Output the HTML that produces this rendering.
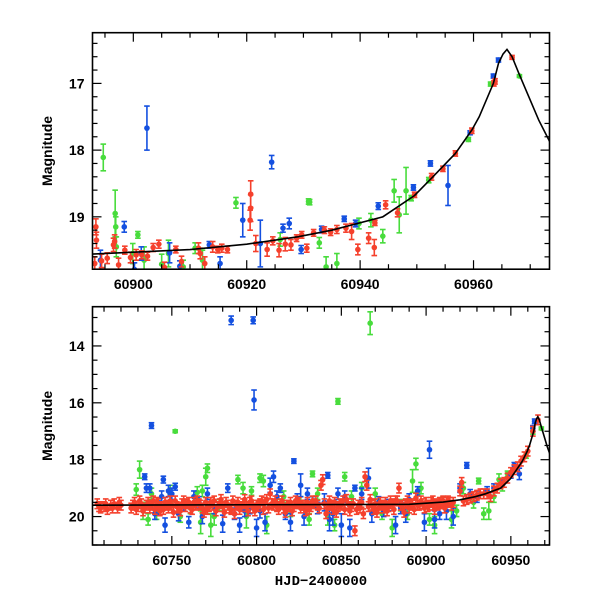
<!DOCTYPE html>
<html><head><meta charset="utf-8"><style>
html,body{margin:0;padding:0;background:#fff;}
svg{display:block;font-family:"Liberation Sans",sans-serif;}
</style></head><body>
<svg id="chart" width="600" height="600" viewBox="0 0 600 600"></svg>
<script>
// ---------- data ----------
const modelT = [60700,60890,60900,60910,60920,60929,60935,60944,60949.6,60952.6,60956.8,60959.7,60961,60963.5,60964.4,60965.2,60965.9,60966.8,60968,60969.5,60971.5,60973.6,60976];
const modelM = [19.6,19.57,19.53,19.49,19.41,19.3,19.2,19.0,18.68,18.42,18.05,17.7,17.5,17.0,16.7,16.56,16.49,16.6,16.85,17.15,17.55,17.9,18.2];

const topRed = [[60893.4,19.15,.12],[60893.5,19.35,.12],[60893.2,19.7,.1],[60894.4,19.66,.1],[60895.4,19.62,.08],[60896.5,19.42,.1],[60896.7,19.37,.1],[60897.4,19.72,.1],[60898.5,19.5,.06],[60899.5,19.61,.08],[60900.5,19.57,.08],[60901.5,19.57,.06],[60902.5,19.59,.06],[60903.5,19.46,.06],[60904.5,19.41,.06],[60905.5,19.76,.08],[60907.5,19.49,.05],[60908.5,19.67,.08],[60911.5,19.47,.08],[60911.8,19.55,.08],[60912.6,19.7,.1],[60914,19.45,.08],[60914.9,19.49,.05],[60915.6,19.47,.06],[60916.6,19.49,.05],[60920.6,19.05,.15],[60920.7,18.87,.2],[60920.7,18.66,.2],[60921.6,19.4,.12],[60923.6,19.49,.1],[60924.6,19.36,.06],[60925.7,19.5,.1],[60926.8,19.41,.1],[60927.8,19.42,.08],[60928.8,19.32,.05],[60929.7,19.27,.05],[60930.6,19.47,.06],[60931.8,19.24,.05],[60933.7,19.2,.05],[60934.8,19.23,.05],[60935.9,19.19,.06],[60937.5,19.17,.06],[60938.5,19.22,.12],[60939.6,19.49,.08],[60941.5,19.32,.08],[60942.5,19.46,.12],[60942.6,19.09,.04],[60944.5,18.82,.06],[60946.6,18.94,.06],[60949.6,18.67,.04],[60952.6,18.4,.05],[60954.6,18.28,.04],[60956.8,18.05,.04],[60959.7,17.71,.04],[60963.6,17.0,.04],[60963.8,16.97,.04],[60966.8,16.61,.03]];
const topBlue = [[60894.2,19.65,.15],[60898.4,19.15,.08],[60900.2,19.79,.1],[60901.4,19.55,.1],[60902.4,17.67,.33],[60906.4,19.54,.15],[60908.2,19.74,.08],[60913.4,19.42,.05],[60915.3,19.7,.1],[60919.3,19.05,.25],[60922.4,19.4,.35],[60924.4,18.18,.1],[60926.4,19.17,.06],[60927.5,19.1,.08],[60929.6,19.49,.06],[60933.2,19.19,.05],[60933.5,19.19,.04],[60937.2,19.03,.04],[60939.2,19.1,.05],[60943.2,18.84,.05],[60949.4,18.56,.04],[60952.4,18.2,.04],[60955.5,18.53,.3],[60959.4,17.74,.03],[60963.5,16.89,.03],[60964.4,16.65,.03]];
const topGreen = [[60894.7,18.11,.2],[60896.8,18.95,.35],[60896.9,19.15,.15],[60900.8,19.27,.05],[60897,19.45,.15],[60899.9,19.55,.15],[60901.9,19.65,.2],[60905,19.71,.15],[60906.2,19.55,.2],[60908.8,19.75,.1],[60910.9,19.47,.08],[60912.2,19.65,.15],[60918.1,18.79,.08],[60925.9,19.34,.1],[60930.9,18.77,.04],[60931.1,18.78,.04],[60932.8,19.39,.08],[60934,19.75,.15],[60935.9,19.7,.15],[60939.8,19.1,.08],[60941.9,19.05,.1],[60944,19.29,.1],[60946,18.61,.17],[60946.9,18.97,.27],[60948.1,18.61,.35],[60949,18.72,.04],[60952.1,18.45,.04],[60959.1,17.84,.03],[60963,17.01,.03],[60968.1,16.89,.02]];

const botRed = [[60706,19.55],[60708,19.7],[60710,19.65],[60712,19.75],[60714,19.6],[60716,19.55],[60718,19.7],[60720,19.6],[60726,19.7],[60728,19.5],[60730,19.65],[60732,19.55],[60734,19.7],[60736,19.5],[60738,19.6],[60740,19.75],[60742,19.55],[60744,19.65],[60746,19.5],[60748,19.7],[60750,19.6],[60752,19.45],[60754,19.7],[60756,19.55],[60758,19.65],[60760,19.5],[60762,19.75],[60764,19.6],[60766,19.55],[60768,19.7],[60770,19.5],[60772,19.65],[60774,19.6],[60776,19.8],[60778,19.55],[60780,19.65],[60782,19.5],[60784,19.7],[60786,19.45],[60788,19.6],[60790,19.75],[60792,19.55],[60794,19.65],[60796,19.5],[60798,19.7],[60800,19.6],[60802,19.55],[60804,19.75],[60806,19.4],[60808,19.2],[60810,19.6],[60812,19.65],[60814,19.55],[60816,19.7],[60818,19.6],[60820,19.5],[60822,19.65],[60824,19.55],[60826,19.7],[60828,19.6],[60830,19.5],[60832,19.65],[60834,19.55],[60836,19.6],[60838,18.9],[60839,18.7],[60840,19.55],[60842,19.7],[60844,19.6],[60846,19.5],[60848,19.65],[60850,19.6],[60852,19.75],[60854,19.55],[60856,19.65],[60858,20.5],[60860,19.6],[60862,19.5],[60864,18.6],[60865,18.9],[60866,19.65],[60868,19.6],[60870,19.55],[60872,19.7],[60874,19.6],[60876,19.5],[60878,19.65],[60880,19.55],[60882,19.45],[60884,19.0],[60886,19.6],[60888,19.55],[60890,19.7],[60892,19.6],[60894,19.35],[60896,19.6],[60898,19.55],[60900,19.5],[60902,19.6],[60904,19.45],[60906,19.55],[60908,19.5],[60910,19.45],[60912,19.5],[60914,19.5],[60916,19.5],[60920,19.1],[60921,18.8],[60922,19.45],[60924,19.4],[60926,19.35],[60928,19.3],[60930,19.25],[60932,19.2],[60934,19.2],[60936,19.2],[60938,19.3],[60940,19.1],[60942,19.0],[60944,18.85],[60946,18.8],[60948,18.65],[60950,18.45],[60952,18.35],[60954,18.25],[60956,18.05],[60958,17.9],[60960,17.7],[60963,17.0],[60966,16.6],
[60727,19.6],[60733,19.8],[60739,19.45],[60745,19.75],[60751,19.85],[60757,19.45],[60763,19.5],[60769,19.85],[60775,19.45],[60781,19.85],[60787,19.9],[60793,19.4],[60799,19.8],[60805,19.5],[60811,19.45],[60817,19.85],[60823,19.45],[60829,19.8],[60835,19.45],[60841,19.9],[60847,19.85],[60853,19.4],[60859,19.75],[60863,19.9],[60867,19.4],[60871,19.85],[60877,19.8],[60883,19.45],[60887,19.85],[60893,19.75],[60899,19.7],[60905,19.75],[60911,19.7],
[60707,19.65],[60711,19.55],[60715,19.7],[60719,19.5],[60729,19.75],[60731,19.45],[60735,19.6],[60737,19.7],[60741,19.5],[60743,19.8],[60747,19.6],[60749,19.45],[60753,19.65],[60755,19.8],[60759,19.55],[60761,19.7],[60765,19.45],[60767,19.6],[60771,19.75],[60773,19.5],[60777,19.65],[60779,19.4],[60783,19.6],[60785,19.75],[60789,19.5],[60791,19.65],[60795,19.8],[60797,19.45],[60801,19.65],[60803,19.45],[60807,19.7],[60809,19.55],[60813,19.75],[60815,19.45],[60819,19.65],[60821,19.8],[60825,19.5],[60827,19.6],[60831,19.75],[60833,19.45],[60837,19.7],[60843,19.45],[60845,19.75],[60849,19.55],[60851,19.45],[60855,19.8],[60857,19.55],[60861,19.7],[60869,19.75],[60873,19.5],[60875,19.7],[60879,19.45],[60881,19.75],[60885,19.6],[60889,19.45],[60891,19.55],[60895,19.6],[60897,19.45],[60901,19.65],[60903,19.5],[60907,19.6],[60909,19.55],[60913,19.45],[60915,19.6]];
const botBlue = [[60734,18.6,.1],[60735,19.0,.15],[60737,19.0,.15],[60738,16.8,.1],[60740,19.9,.2],[60742,19.7,.25],[60744,19.3,.2],[60745,18.7,.12],[60746,20.3,.25],[60748,19.1,.2],[60750,19.2,.2],[60752,18.95,.12],[60754,19.9,.25],[60757,19.6,.2],[60760,20.2,.2],[60763,19.3,.2],[60766,19.5,.2],[60768,20.0,.25],[60771,19.2,.2],[60775,19.7,.2],[60780,20.25,.3],[60783,19.0,.15],[60785,13.1,.15],[60787,19.9,.2],[60790,20.3,.25],[60793,19.8,.2],[60796,19.7,.2],[60798,13.1,.12],[60798.5,15.9,.35],[60800,20.4,.3],[60802,19.8,.25],[60805,20.2,.3],[60808,18.9,.25],[60810,18.6,.2],[60812,19.3,.2],[60814,19.0,.15],[60817,19.9,.2],[60820,20.2,.3],[60822,18.05,.08],[60824,19.4,.2],[60826,18.9,.4],[60828,20.0,.3],[60830,19.2,.2],[60833,19.5,.2],[60836,19.7,.2],[60840,19.5,.3],[60842,18.55,.1],[60843,20.1,.4],[60845,19.9,.4],[60848,19.2,.2],[60850,20.3,.4],[60852,19.3,.2],[60855,20.4,.3],[60858,19.0,.1],[60862,19.2,.2],[60866,18.65,.35],[60868,19.9,.3],[60872,19.5,.2],[60875,19.8,.2],[60878,19.6,.2],[60882,20.3,.3],[60885,19.7,.2],[60888,19.9,.3],[60890,19.4,.2],[60895,19.1,.15],[60899,20.2,.3],[60902,17.65,.3],[60905,20.1,.3],[60908,19.9,.2],[60912,19.8,.3],[60916,20.0,.3],[60920,19.0,.15],[60924,18.2,.1],[60926,19.2,.15],[60930,19.3,.2],[60936,19.1,.15],[60940,19.0,.15],[60945,18.8,.1],[60950,18.55,.1],[60952,18.2,.1],[60955,18.5,.2],[60963,16.9,.1],[60964,16.65,.08]];
const botGreen = [[60729,19.05,.2],[60731,18.35,.3],[60733,19.8,.3],[60736,20.1,.2],[60738,19.2,.2],[60741,19.9,.2],[60749,19.2,.3],[60752,17.0,.05],[60755,20.0,.2],[60761,19.7,.2],[60765,19.15,.2],[60767,20.2,.4],[60768,19.1,.2],[60770,18.6,.3],[60771,18.3,.15],[60773,20.3,.4],[60775,20.0,.3],[60778,19.6,.2],[60789,18.7,.15],[60792,19.0,.2],[60794,20.0,.4],[60797,19.1,.15],[60802,18.65,.15],[60804,18.75,.2],[60806,20.3,.3],[60812,19.6,.2],[60816,19.3,.2],[60820,19.8,.2],[60826,19.5,.2],[60831,20.1,.2],[60833,18.5,.1],[60836,19.2,.2],[60842,20.0,.3],[60846,20.3,.2],[60848,15.95,.1],[60852,18.6,.15],[60856,19.3,.2],[60862,19.0,.2],[60867,13.2,.4],[60870,19.2,.2],[60874,19.9,.2],[60880,20.4,.3],[60885,19.6,.2],[60889,19.9,.2],[60892,18.75,.4],[60894,18.15,.2],[60897,19.0,.2],[60902,20.1,.2],[60905,20.3,.3],[60910,19.5,.2],[60915,20.1,.3],[60918,19.8,.2],[60922,19.0,.2],[60928,19.5,.2],[60931,18.75,.1],[60934,19.9,.2],[60937,19.8,.3],[60940,19.3,.2],[60943,18.7,.2],[60945,18.9,.2],[60948,18.5,.1],[60959,17.85,.1],[60963,17.0,.1],[60968,16.9,.05]];

const topXTicks = [60900,60920,60940,60960];
const topYTicks = [17,18,19];
const botXTicks = [60750,60800,60850,60900,60950];
const botYTicks = [14,16,18,20];

// ---------- drawing ----------
const NS = "http://www.w3.org/2000/svg";
const svg = document.getElementById('chart');
function mk(tag, attrs, parent){
  const e = document.createElementNS(NS, tag);
  for (const k in attrs) e.setAttribute(k, attrs[k]);
  (parent||svg).appendChild(e);
  return e;
}
const COL = {red:'#f5402c', blue:'#1450e0', green:'#48dc3c'};

function panel(name, box, xd, yd, xMajor, xMinor, yMajor, yMinor, xticks, yticks, series, showXTitle){
  const g = mk('g', {});
  
  
  const X = t => box.x + (t - xd[0]) / (xd[1] - xd[0]) * box.w;
  const Y = m => box.y + (m - yd[0]) / (yd[1] - yd[0]) * box.h;
  const cid = 'clip-' + name;
  const cp = mk('clipPath', {id: cid}, g);
  mk('rect', {x: box.x, y: box.y, width: box.w, height: box.h}, cp);
  const plot = mk('g', {'clip-path': 'url(#' + cid + ')'}, g);
  
  
  for (const s of series){
    const sg = mk('g', {}, plot);
    
    
    for (const p of s.data){
      const cx = X(p[0]), cy = Y(p[1]);
      const e = p.length > 2 ? p[2] : s.err;
      const y1 = Y(p[1] - e), y2 = Y(p[1] + e);
      const pt = mk('g', {stroke: COL[s.color], fill: COL[s.color], 'stroke-width': 1.6}, sg);
      
      
      mk('line', {x1: cx, x2: cx, y1: y1, y2: y2}, pt);
      mk('line', {x1: cx-2.8, x2: cx+2.8, y1: y1, y2: y1}, pt);
      mk('line', {x1: cx-2.8, x2: cx+2.8, y1: y2, y2: y2}, pt);
      mk('circle', {cx: cx, cy: cy, r: 2.8, stroke: 'none'}, pt);
    }
  }
  let d = '';
  modelT.forEach((t, i) => { d += (i ? 'L' : 'M') + X(t).toFixed(2) + ' ' + Y(modelM[i]).toFixed(2); });
  const ml = mk('path', {d: d, fill: 'none', stroke: '#000', 'stroke-width': 1.6}, plot);
  
  
  const fr = mk('rect', {x: box.x, y: box.y, width: box.w, height: box.h, fill: 'none', stroke: '#000', 'stroke-width': 1.6}, g);
  
  
  const tg = mk('g', {stroke: '#000', 'stroke-width': 1.2}, g);
  
  
  const isMult = (v, s) => Math.abs(v / s - Math.round(v / s)) < 1e-6;
  for (let t = Math.ceil(xd[0] / xMinor) * xMinor; t <= xd[1]; t += xMinor){
    const L = isMult(t, xMajor) ? 9 : 5, x = X(t);
    mk('line', {x1: x, x2: x, y1: box.y + box.h, y2: box.y + box.h - L}, tg);
    mk('line', {x1: x, x2: x, y1: box.y, y2: box.y + L}, tg);
  }
  const ys = Math.ceil(yd[0] / yMinor - 1e-9) * yMinor;
  for (let i = 0; ys + i * yMinor <= yd[1] + 1e-9; i++){
    const m = ys + i * yMinor;
    const L = isMult(m, yMajor) ? 9 : 5, y = Y(m);
    mk('line', {x1: box.x, x2: box.x + L, y1: y, y2: y}, tg);
    mk('line', {x1: box.x + box.w, x2: box.x + box.w - L, y1: y, y2: y}, tg);
  }
  for (const t of xticks){
    const tx = mk('text', {x: X(t), y: box.y + box.h + 20, 'text-anchor': 'middle', 'font-size': 14, 'font-weight': 'bold'}, g);
    
    
    tx.textContent = t;
  }
  for (const m of yticks){
    const tx = mk('text', {x: box.x - 8, y: Y(m) + 5, 'text-anchor': 'end', 'font-size': 14, 'font-weight': 'bold'}, g);
    
    
    tx.textContent = m;
  }
  const cy = box.y + box.h / 2;
  const yt = mk('text', {x: 52, y: cy, transform: 'rotate(-90 52 ' + cy + ')', 'text-anchor': 'middle', 'font-size': 14, 'font-weight': 'bold'}, g);
  
  
  yt.textContent = 'Magnitude';
  if (showXTitle){
    const xt = mk('text', {x: box.x + box.w / 2, y: box.y + box.h + 40, 'text-anchor': 'middle', 'font-size': 14, 'font-weight': 'bold', 'font-family': '"Liberation Mono", monospace'}, g);
    
    
    xt.textContent = 'HJD\u22122400000';
  }
}

panel('top-panel', {x: 92.5, y: 32.7, w: 457, h: 236.5}, [60892.8, 60973.4], [16.24, 19.785], 20, 5, 1, 0.2, topXTicks, topYTicks,
  [{name: 'series-green', color: 'green', data: topGreen, err: .08}, {name: 'series-blue', color: 'blue', data: topBlue, err: .08}, {name: 'series-red', color: 'red', data: topRed, err: .08}], false);
panel('bottom-panel', {x: 92.5, y: 306.7, w: 457, h: 238.3}, [60703.2, 60972.8], [12.62, 21.0], 50, 10, 2, 0.5, botXTicks, botYTicks,
  [{name: 'series-green', color: 'green', data: botGreen, err: .15}, {name: 'series-blue', color: 'blue', data: botBlue, err: .15}, {name: 'series-red', color: 'red', data: botRed, err: .17}], true);
</script>
</body></html>
